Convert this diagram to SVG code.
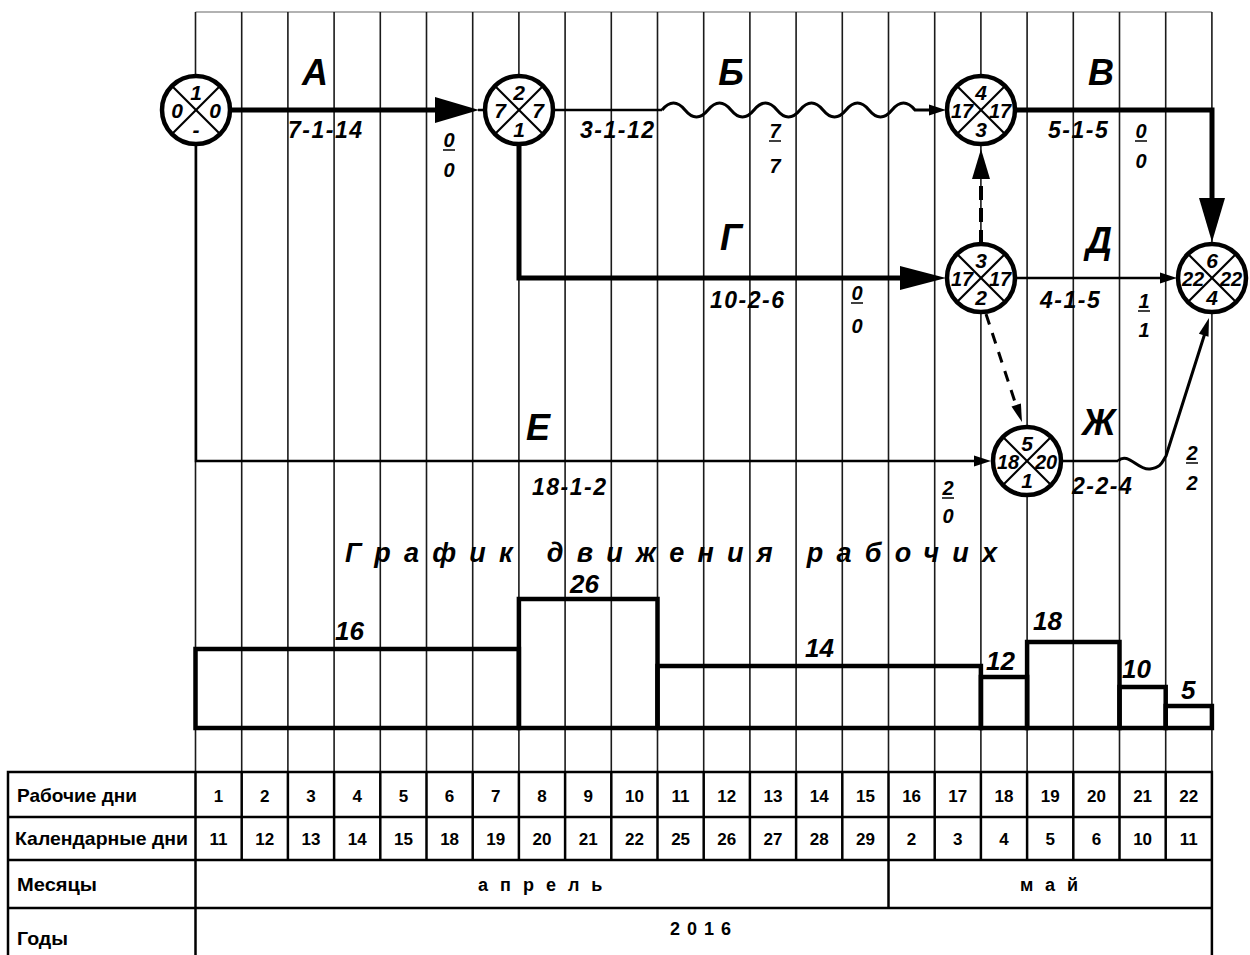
<svg xmlns="http://www.w3.org/2000/svg" width="1250" height="955" viewBox="0 0 1250 955">
<style>
.bg{fill:#fff}
.grid{stroke:#1a1a1a;stroke-width:1.6;fill:none}
.topl{stroke:#999;stroke-width:1.5}
.thick{stroke:#000;stroke-width:5;fill:none}
.thin{stroke:#000;stroke-width:2.5;fill:none}
.wave{stroke:#000;stroke-width:3;fill:none}
.dash{stroke:#000;stroke-width:4;stroke-dasharray:14 8;fill:none}
.dash2{stroke:#000;stroke-width:3;stroke-dasharray:11 9;fill:none}
.ah{fill:#000}
.node circle{fill:#fff;stroke:#000;stroke-width:4.5}
.node line{stroke:#000;stroke-width:2.2}
.nt{font-family:"Liberation Sans",Arial,sans-serif;font-weight:bold;font-style:italic;font-size:21px;text-anchor:middle}
.nt2{font-size:20px}
.big{font-family:"Liberation Sans",Arial,sans-serif;font-weight:bold;font-style:italic;font-size:36px;text-anchor:middle}
.code{font-family:"Liberation Sans",Arial,sans-serif;font-weight:bold;font-style:italic;font-size:23px;letter-spacing:1.5px}
.fr{font-family:"Liberation Sans",Arial,sans-serif;font-weight:bold;font-style:italic;font-size:20px;text-anchor:middle}
.bar{stroke:#000;stroke-width:1.5}
.hist{fill:none;stroke:#000;stroke-width:4.5}
.hl{font-family:"Liberation Sans",Arial,sans-serif;font-weight:bold;font-style:italic;font-size:26px}
.title{font-family:"Liberation Sans",Arial,sans-serif;font-weight:bold;font-style:italic;font-size:27px}
.tb{stroke:#000;stroke-width:2.5;fill:none}
.tl{font-family:"Liberation Sans",Arial,sans-serif;font-weight:bold;font-size:19px}
.tn{font-family:"Liberation Sans",Arial,sans-serif;font-weight:bold;font-size:17px;text-anchor:middle}
.tm{font-family:"Liberation Sans",Arial,sans-serif;font-weight:bold;font-size:18px}
</style>
<rect class="bg" x="0" y="0" width="1250" height="955"/>

<g id="grid">
<line class="topl" x1="195.5" y1="12" x2="1211.9" y2="12"/>
<path class="grid" d="M195.5,12V772 M241.7,12V772 M287.9,12V772 M334.1,12V772 M380.3,12V772 M426.5,12V772 M472.7,12V772 M518.9,12V772 M565.1,12V772 M611.3,12V772 M657.5,12V772 M703.7,12V772 M749.9,12V772 M796.1,12V772 M842.3,12V772 M888.5,12V772 M934.7,12V772 M980.9,12V772 M1027.1,12V772 M1073.3,12V772 M1119.5,12V772 M1165.7,12V772 M1211.9,12V772"/>
</g>

<g id="connectors">
<!-- A -->
<path class="thick" d="M230,110H440"/>
<polygon class="ah" points="479,110 435,97 435,123"/>
<path class="thin" d="M478,110H486"/>
<!-- Б -->
<path class="thin" d="M553,110H662"/>
<path class="wave" d="M662,110q11.5,-14 23,0t23,0t23,0t23,0t23,0t23,0t23,0t23,0t23,0t23,0t23,0H932"/>
<polygon class="ah" points="946,110 929,104.5 929,115.5"/>
<!-- В -->
<path class="thick" d="M1015,110H1212V205"/>
<polygon class="ah" points="1212,242 1199,198 1225,198"/>
<!-- Г -->
<path class="thick" d="M519,144V278H905"/>
<polygon class="ah" points="946,278 900,266 900,290"/>
<!-- Д -->
<path class="thin" d="M1015,278H1162"/>
<polygon class="ah" points="1177,278 1160,272.5 1160,283.5"/>
<!-- dashed 3-4 -->
<path class="dash" d="M981,244V176"/>
<polygon class="ah" points="981,149 972,179 990,179"/>
<!-- dashed 3-5 -->
<path class="dash2" d="M986,314L1016,405"/>
<polygon class="ah" points="1022,422 1020.9,403.4 1011.5,406.6"/>
<!-- Е -->
<path class="thin" d="M196,144V461H976"/>
<polygon class="ah" points="991,461 974,455.5 974,466.5"/>
<!-- Ж -->
<path class="thin" d="M1061,461H1118"/>
<path class="wave" d="M1118,461C1128,451 1138,471 1150,469S1162,462 1166,456L1205,333"/>
<polygon class="ah" points="1209,318 1208.5,336.7 1198.9,333.7"/>
</g>

<g id="labels">
<text class="big" x="315" y="85">А</text>
<text class="big" x="731" y="85">Б</text>
<text class="big" x="1101" y="85">В</text>
<text class="big" x="731" y="250">Г</text>
<text class="big" x="1099" y="253">Д</text>
<text class="big" x="538" y="440">Е</text>
<text class="big" x="1099" y="435">Ж</text>
<text class="code" x="288" y="138">7-1-14</text>
<text class="code" x="580" y="138">3-1-12</text>
<text class="code" x="1048" y="138">5-1-5</text>
<text class="code" x="710" y="308">10-2-6</text>
<text class="code" x="1040" y="308">4-1-5</text>
<text class="code" x="532" y="495">18-1-2</text>
<text class="code" x="1072" y="494">2-2-4</text>
</g>

<g id="fractions">
<text class="fr" x="449" y="147">0</text><line class="bar" x1="443" y1="150" x2="455" y2="150"/><text class="fr" x="449" y="177">0</text>
<text class="fr" x="775" y="138">7</text><line class="bar" x1="769" y1="141" x2="781" y2="141"/><text class="fr" x="775" y="173">7</text>
<text class="fr" x="1141" y="138">0</text><line class="bar" x1="1135" y1="141" x2="1147" y2="141"/><text class="fr" x="1141" y="168">0</text>
<text class="fr" x="857" y="300">0</text><line class="bar" x1="851" y1="303" x2="863" y2="303"/><text class="fr" x="857" y="333">0</text>
<text class="fr" x="1144" y="308">1</text><line class="bar" x1="1138" y1="311" x2="1150" y2="311"/><text class="fr" x="1144" y="337">1</text>
<text class="fr" x="948" y="495">2</text><line class="bar" x1="942" y1="498" x2="954" y2="498"/><text class="fr" x="948" y="523">0</text>
<text class="fr" x="1192" y="460">2</text><line class="bar" x1="1186" y1="463" x2="1198" y2="463"/><text class="fr" x="1192" y="490">2</text>
</g>

<g id="n1" class="node"><circle cx="196" cy="110" r="34"/><line x1="172" y1="86" x2="220" y2="134"/><line x1="172" y1="134" x2="220" y2="86"/>
<text class="nt" x="196" y="100">1</text><text class="nt" x="177" y="118">0</text><text class="nt" x="215" y="118">0</text><text class="nt" x="196" y="137">-</text></g>
<g id="n2" class="node"><circle cx="519" cy="110" r="34"/><line x1="495" y1="86" x2="543" y2="134"/><line x1="495" y1="134" x2="543" y2="86"/>
<text class="nt" x="519" y="100">2</text><text class="nt" x="500" y="118">7</text><text class="nt" x="538" y="118">7</text><text class="nt" x="519" y="137">1</text></g>
<g id="n4" class="node"><circle cx="981" cy="110" r="34"/><line x1="957" y1="86" x2="1005" y2="134"/><line x1="957" y1="134" x2="1005" y2="86"/>
<text class="nt" x="981" y="100">4</text><text class="nt nt2" x="962" y="118">17</text><text class="nt nt2" x="1000" y="118">17</text><text class="nt" x="981" y="137">3</text></g>
<g id="n3" class="node"><circle cx="981" cy="278" r="34"/><line x1="957" y1="254" x2="1005" y2="302"/><line x1="957" y1="302" x2="1005" y2="254"/>
<text class="nt" x="981" y="268">3</text><text class="nt nt2" x="962" y="286">17</text><text class="nt nt2" x="1000" y="286">17</text><text class="nt" x="981" y="305">2</text></g>
<g id="n6" class="node"><circle cx="1212" cy="278" r="34"/><line x1="1188" y1="254" x2="1236" y2="302"/><line x1="1188" y1="302" x2="1236" y2="254"/>
<text class="nt" x="1212" y="268">6</text><text class="nt nt2" x="1193" y="286">22</text><text class="nt nt2" x="1231" y="286">22</text><text class="nt" x="1212" y="305">4</text></g>
<g id="n5" class="node"><circle cx="1027" cy="461" r="34"/><line x1="1003" y1="437" x2="1051" y2="485"/><line x1="1003" y1="485" x2="1051" y2="437"/>
<text class="nt" x="1027" y="451">5</text><text class="nt nt2" x="1008" y="469">18</text><text class="nt nt2" x="1046" y="469">20</text><text class="nt" x="1027" y="488">1</text></g>

<g id="histogram">
<text class="title" x="345" y="562" textLength="652" lengthAdjust="spacing">График движения рабочих</text>
<rect class="hist" x="195.5" y="649" width="323.4" height="79"/>
<rect class="hist" x="518.9" y="599" width="138.6" height="129"/>
<rect class="hist" x="657.5" y="666" width="323.4" height="62"/>
<rect class="hist" x="980.9" y="677" width="46.2" height="51"/>
<rect class="hist" x="1027.1" y="642" width="92.4" height="86"/>
<rect class="hist" x="1119.5" y="687" width="46.2" height="41"/>
<rect class="hist" x="1165.7" y="706" width="46.2" height="22"/>
<text class="hl" x="335" y="640">16</text>
<text class="hl" x="570" y="593">26</text>
<text class="hl" x="805" y="657">14</text>
<text class="hl" x="986" y="670">12</text>
<text class="hl" x="1033" y="630">18</text>
<text class="hl" x="1122" y="678">10</text>
<text class="hl" x="1181" y="699">5</text>
</g>

<g id="table">
<path class="tb" d="M8,955V772H1211.9V955 M8,817H1211.9 M8,860H1211.9 M8,908H1211.9 M195.5,772V955 M888.5,860V908"/>
<path class="tb" d="M241.7,772V860 M287.9,772V860 M334.1,772V860 M380.3,772V860 M426.5,772V860 M472.7,772V860 M518.9,772V860 M565.1,772V860 M611.3,772V860 M657.5,772V860 M703.7,772V860 M749.9,772V860 M796.1,772V860 M842.3,772V860 M888.5,772V860 M934.7,772V860 M980.9,772V860 M1027.1,772V860 M1073.3,772V860 M1119.5,772V860 M1165.7,772V860"/>
<text class="tl" x="17" y="802" textLength="120" lengthAdjust="spacingAndGlyphs">Рабочие дни</text>
<text class="tl" x="15" y="845" textLength="173" lengthAdjust="spacingAndGlyphs">Календарные дни</text>
<text class="tl" x="17" y="891" textLength="80" lengthAdjust="spacingAndGlyphs">Месяцы</text>
<text class="tl" x="17" y="945" textLength="51" lengthAdjust="spacingAndGlyphs">Годы</text>
<g class="tn">
<text x="218.6" y="802">1</text><text x="264.8" y="802">2</text><text x="311" y="802">3</text><text x="357.2" y="802">4</text><text x="403.4" y="802">5</text><text x="449.6" y="802">6</text><text x="495.8" y="802">7</text><text x="542" y="802">8</text><text x="588.2" y="802">9</text><text x="634.4" y="802">10</text><text x="680.6" y="802">11</text><text x="726.8" y="802">12</text><text x="773" y="802">13</text><text x="819.2" y="802">14</text><text x="865.4" y="802">15</text><text x="911.6" y="802">16</text><text x="957.8" y="802">17</text><text x="1004" y="802">18</text><text x="1050.2" y="802">19</text><text x="1096.4" y="802">20</text><text x="1142.6" y="802">21</text><text x="1188.8" y="802">22</text>
<text x="218.6" y="845">11</text><text x="264.8" y="845">12</text><text x="311" y="845">13</text><text x="357.2" y="845">14</text><text x="403.4" y="845">15</text><text x="449.6" y="845">18</text><text x="495.8" y="845">19</text><text x="542" y="845">20</text><text x="588.2" y="845">21</text><text x="634.4" y="845">22</text><text x="680.6" y="845">25</text><text x="726.8" y="845">26</text><text x="773" y="845">27</text><text x="819.2" y="845">28</text><text x="865.4" y="845">29</text><text x="911.6" y="845">2</text><text x="957.8" y="845">3</text><text x="1004" y="845">4</text><text x="1050.2" y="845">5</text><text x="1096.4" y="845">6</text><text x="1142.6" y="845">10</text><text x="1188.8" y="845">11</text>
</g>
<text class="tm" x="478" y="891" letter-spacing="12">апрель</text>
<text class="tm" x="1020" y="891" letter-spacing="12">май</text>
<text class="tm" x="670" y="935" letter-spacing="7">2016</text>
</g>
</svg>
